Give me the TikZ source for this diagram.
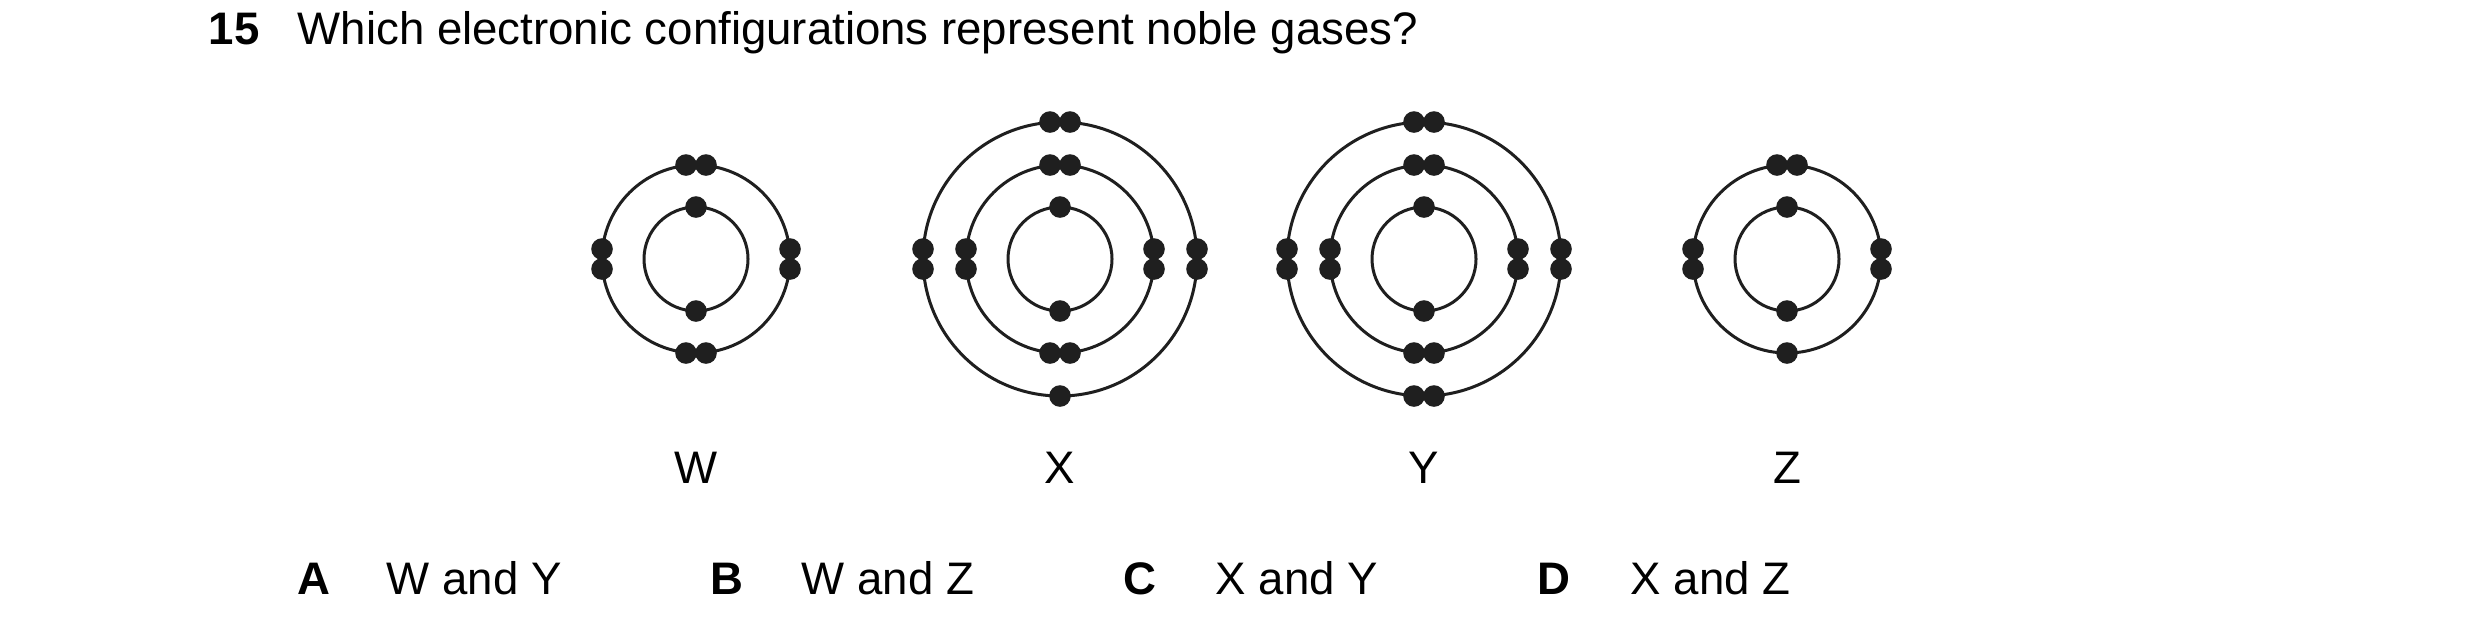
\documentclass[tikz,border=0pt]{standalone}
\usepackage{fontspec}
\setmainfont{Liberation Sans}
\begin{document}
\begin{tikzpicture}[x=0.25pt,y=-0.25pt,
  shell/.style={line width=0.75pt,draw=black!88},
  el/.style={circle,fill=black!88,inner sep=0pt,minimum size=5.4pt},
  txt/.style={anchor=base west,font=\fontsize{11.4pt}{13pt}\selectfont,inner sep=0pt},
  bf/.style={txt,font=\fontsize{11.4pt}{13pt}\selectfont\bfseries},
  lab/.style={anchor=base,font=\fontsize{11.4pt}{13pt}\selectfont,inner sep=0pt}]
\useasboundingbox (0,0) rectangle (2480,636);
\node[bf] (q) at (208,44) {15};
\node[txt] (qt) at (297,44) {Which electronic configurations represent noble gases?};
\def\pairh#1#2#3{\node[el] at (#1-10,#2) {}; \node[el] at (#1+10,#2) {};}
\def\pairv#1#2{\node[el] at (#1,#2-10) {}; \node[el] at (#1,#2+10) {};}
% W
\draw[shell] (696,259) circle[radius=52];
\draw[shell] (696,259) circle[radius=94];
\node[el] at (696,207) {}; \node[el] at (696,311) {};
\pairh{696}{165}{} \pairh{696}{353}{} \pairv{602}{259} \pairv{790}{259}
% X
\draw[shell] (1060,259) circle[radius=52];
\draw[shell] (1060,259) circle[radius=94];
\draw[shell] (1060,259) circle[radius=137];
\node[el] at (1060,207) {}; \node[el] at (1060,311) {};
\pairh{1060}{165}{} \pairh{1060}{353}{} \pairv{966}{259} \pairv{1154}{259}
\pairh{1060}{122}{} \node[el] at (1060,396) {}; \pairv{923}{259} \pairv{1197}{259}
% Y
\draw[shell] (1424,259) circle[radius=52];
\draw[shell] (1424,259) circle[radius=94];
\draw[shell] (1424,259) circle[radius=137];
\node[el] at (1424,207) {}; \node[el] at (1424,311) {};
\pairh{1424}{165}{} \pairh{1424}{353}{} \pairv{1330}{259} \pairv{1518}{259}
\pairh{1424}{122}{} \pairh{1424}{396}{} \pairv{1287}{259} \pairv{1561}{259}
% Z
\draw[shell] (1787,259) circle[radius=52];
\draw[shell] (1787,259) circle[radius=94];
\node[el] at (1787,207) {}; \node[el] at (1787,311) {};
\pairh{1787}{165}{} \node[el] at (1787,353) {}; \pairv{1693}{259} \pairv{1881}{259}
% labels
\node[lab] (lw) at (696,483) {W};
\node[lab] (lx) at (1060,483) {X};
\node[lab] (ly) at (1424,483) {Y};
\node[lab] (lz) at (1787,483) {Z};
% answers
\node[bf] (a) at (297,594) {A};
\node[txt] (at) at (386,594) {W and Y};
\node[bf] (b) at (710,594) {B};
\node[txt] (bt) at (801,594) {W and Z};
\node[bf] (c) at (1123,594) {C};
\node[txt] (ct) at (1215,594) {X and Y};
\node[bf] (d) at (1537,594) {D};
\node[txt] (dt) at (1630,594) {X and Z};
\end{tikzpicture}
\end{document}
